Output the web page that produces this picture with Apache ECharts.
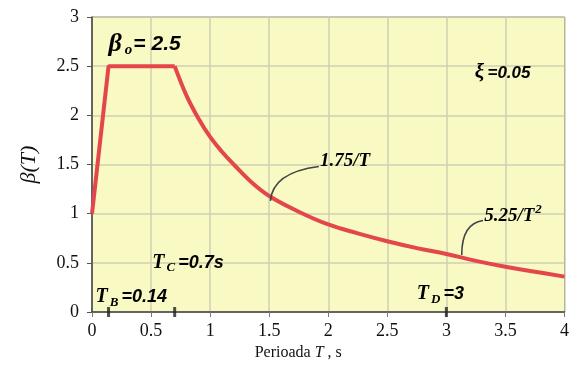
<!DOCTYPE html>
<html>
<head>
<meta charset="utf-8">
<script src="https://cdn.jsdelivr.net/npm/echarts@6/dist/echarts.min.js"></script>
<style>
  html, body { margin: 0; padding: 0; background: #fff; }
  #myChart { width: 572px; height: 366px; }
</style>
</head>
<body>
<div id="myChart"></div>
<script>
// rising branch + plateau (straight segments)
var rampT = [0, 0.14, 0.7];
var rampB = [1.0, 2.5, 2.5];
// descending branch (1.75/T then 5.25/T^2)
var decayT = [0.7, 0.8, 0.9, 1.0, 1.1, 1.2, 1.35, 1.5, 1.75, 2.0, 2.25, 2.5, 2.75, 3.0, 3.25, 3.5, 3.75, 4.0];
var decayB = [2.5, 2.2, 1.97, 1.78, 1.63, 1.5, 1.32, 1.18, 1.02, 0.89, 0.8, 0.72, 0.65, 0.59, 0.52, 0.46, 0.41, 0.36];
// bold marks on the period axis
var markT = [0.14, 0.7, 3];
var xTicks = [0, 0.5, 1, 1.5, 2, 2.5, 3, 3.5, 4];
var yTicks = [0, 0.5, 1, 1.5, 2, 2.5, 3];

var red = '#e3474b';
var blue = '#4f72bd';
var serif = '"Liberation Serif", "DejaVu Serif", serif';
var sans = '"Liberation Sans", sans-serif';

function pairs(xs, ys) {
  return xs.map(function (x, i) { return [x, ys[i]]; });
}

var myChart = echarts.init(document.getElementById('myChart'));
var option = {
  animation: false,
  grid: {
    left: 92, right: 3, top: 17, bottom: 51,
    show: true,
    backgroundColor: '#f9f9c4',
    borderColor: '#666',
    borderWidth: 1
  },
  xAxis: {
    type: 'value',
    min: 0, max: 4, interval: 0.5,
    name: '{a|Perioada }{i|T}{a| , s}',
    nameLocation: 'middle',
    nameGap: 33,
    nameTextStyle: {
      padding: [0, 60, 0, 0],
      rich: {
        a: { fontFamily: serif, fontSize: 16, color: '#111' },
        i: { fontFamily: serif, fontStyle: 'italic', fontSize: 16, color: '#111' }
      }
    },
    axisLine: { lineStyle: { color: '#444', width: 1.5 } },
    axisTick: { show: true, length: 5, lineStyle: { color: '#777' } },
    axisLabel: {
      fontFamily: serif, fontSize: 18, color: '#111', margin: 10,
      formatter: function (v) { return xTicks.indexOf(v) >= 0 ? String(v) : ''; }
    },
    splitLine: { show: true, lineStyle: { color: '#cfcfb6', width: 1.5 } }
  },
  yAxis: {
    type: 'value',
    min: 0, max: 3, interval: 0.5,
    name: 'β(T)',
    nameLocation: 'middle',
    nameRotate: 90,
    nameGap: 52,
    nameTextStyle: { fontFamily: serif, fontStyle: 'italic', fontSize: 22, color: '#111' },
    axisLine: { show: true, lineStyle: { color: '#444', width: 1.5 } },
    axisTick: { show: true, length: 5, lineStyle: { color: '#555' } },
    axisLabel: {
      fontFamily: serif, fontSize: 18, color: '#111', margin: 13,
      formatter: function (v) { return yTicks.indexOf(v) >= 0 ? String(v) : ''; }
    },
    splitLine: { show: true, lineStyle: { color: '#cfcfb6', width: 1.5 } }
  },
  series: [
    {
      type: 'line',
      data: pairs(rampT, rampB),
      showSymbol: false,
      lineStyle: { color: red, width: 4 },
      z: 5
    },
    {
      type: 'line',
      data: pairs(decayT, decayB),
      smooth: 0.4,
      showSymbol: false,
      lineStyle: { color: red, width: 4 },
      z: 5
    },
    {
      type: 'scatter',
      data: markT.map(function (t) { return [t, 0]; }),
      symbol: 'rect',
      symbolSize: [3, 10],
      itemStyle: { color: '#222' },
      z: 6,
      clip: false
    }
  ]
};
myChart.setOption(option);

// annotations anchored in data units
function px(t, b) { return myChart.convertToPixel({ gridIndex: 0 }, [t, b]); }

function label(t, b, rich, text) {
  var p = px(t, b);
  return {
    type: 'text', x: p[0], y: p[1], z: 20,
    style: { text: text, rich: rich, verticalAlign: 'middle', align: 'left' }
  };
}

function leader(t0, b0, tc, bc, t1, b1) {
  var a = px(t0, b0), c = px(tc, bc), e = px(t1, b1);
  return {
    type: 'bezierCurve', z: 20,
    shape: { x1: a[0], y1: a[1], cpx1: c[0], cpy1: c[1], x2: e[0], y2: e[1] },
    style: { stroke: '#444', lineWidth: 1.6, fill: null }
  };
}

var blueRich = {
  t: { fontFamily: serif, fontStyle: 'italic', fontWeight: 'bold', fontSize: 20, color: blue },
  s: { fontFamily: serif, fontStyle: 'italic', fontWeight: 'bold', fontSize: 13, color: blue, padding: [10, 3, 0, 2] },
  n: { fontFamily: sans, fontStyle: 'italic', fontWeight: 'bold', fontSize: 18, color: blue }
};
var redRich = {
  r: { fontFamily: serif, fontStyle: 'italic', fontWeight: 'bold', fontSize: 19, color: red },
  sup: { fontFamily: serif, fontStyle: 'italic', fontWeight: 'bold', fontSize: 13, color: red, padding: [0, 0, 11, 1] }
};
var blackRich = {
  b: { fontFamily: serif, fontStyle: 'italic', fontWeight: 'bold', fontSize: 26, color: '#111' },
  s: { fontFamily: serif, fontStyle: 'italic', fontWeight: 'bold', fontSize: 15, color: '#111', padding: [12, 1, 0, 3] },
  n: { fontFamily: sans, fontStyle: 'italic', fontWeight: 'bold', fontSize: 21, color: '#111' }
};

myChart.setOption({
  graphic: [
    label(0.14, 2.72, blackRich, '{b|β}{s|o}{n|= 2.5}'),
    label(3.24, 2.43, {
      x: { fontFamily: serif, fontStyle: 'italic', fontWeight: 'bold', fontSize: 21, color: blue },
      n: { fontFamily: sans, fontStyle: 'italic', fontWeight: 'bold', fontSize: 17, color: blue }
    }, '{x|ξ} {n|=0.05}'),
    label(1.93, 1.53, redRich, '{r|1.75/T}'),
    label(3.32, 0.98, redRich, '{r|5.25/T}{sup|2}'),
    label(0.51, 0.5, blueRich, '{t|T}{s|C}{n|=0.7s}'),
    label(0.03, 0.15, blueRich, '{t|T}{s|B}{n|=0.14}'),
    label(2.75, 0.18, blueRich, '{t|T}{s|D}{n|=3}'),
    leader(1.51, 1.13, 1.53, 1.42, 1.92, 1.48),
    leader(3.13, 0.58, 3.13, 0.9, 3.31, 0.93)
  ]
});
</script>
</body>
</html>
